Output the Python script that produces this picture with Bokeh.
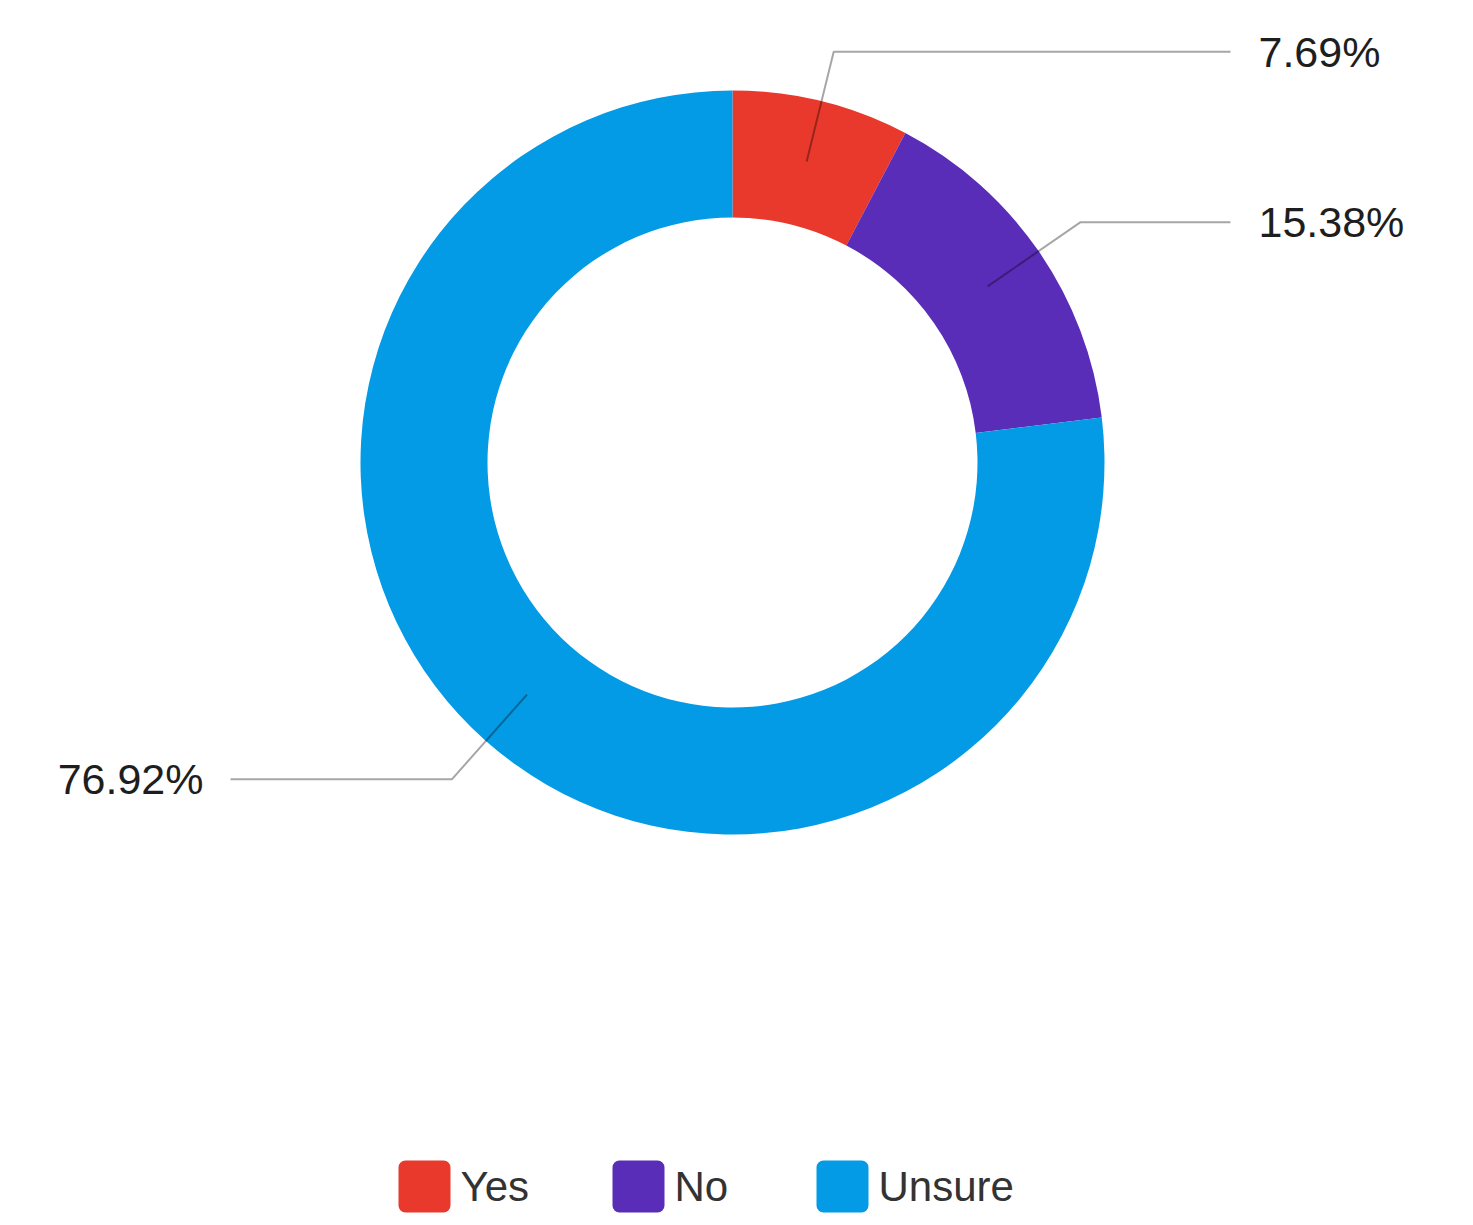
import math
from bokeh.plotting import figure
from bokeh.models import Range1d
from bokeh.core.properties import value
from bokeh.embed import file_html
from bokeh.resources import INLINE

# ---- data ----
categories = ["Yes", "No", "Unsure"]
percentages = [7.69, 15.38, 76.92]
colors = ["#E8392C", "#5A2DB8", "#039BE5"]

# ---- layout constants (pixels) ----
W, H = 1457, 1217
CX, CY = 732, -462
R_OUT, R_IN = 372, 245
R_ANCHOR, R_ELBOW = 310, 423
FONT = "Liberation Sans"

p = figure(width=W, height=H, output_backend="svg", toolbar_location=None,
           x_range=Range1d(0, W), y_range=Range1d(-H, 0),
           min_border=0, outline_line_color=None, background_fill_color="white")
p.axis.visible = False
p.grid.visible = False

total = sum(percentages)
cum = 0.0
starts, ends, mids = [], [], []
for v in percentages:
    a0 = math.pi / 2 - 2 * math.pi * cum / total
    cum += v
    a1 = math.pi / 2 - 2 * math.pi * cum / total
    starts.append(a0)
    ends.append(a1)
    mids.append((a0 + a1) / 2)

p.annular_wedge(x=CX, y=CY, inner_radius=R_IN, outer_radius=R_OUT,
                start_angle=starts, end_angle=ends, direction="clock",
                fill_color=colors, line_color=None)

# leader lines and labels
for v, m in zip(percentages, mids):
    ax, ay = CX + R_ANCHOR * math.cos(m), CY + R_ANCHOR * math.sin(m)
    ex, ey = CX + R_ELBOW * math.cos(m), CY + R_ELBOW * math.sin(m)
    right = math.cos(m) >= 0
    hx = 1230 if right else 230
    p.line([ax, ex, hx], [ay, ey, ey], line_color="black", line_alpha=0.35, line_width=2)
    p.text(x=[hx + 28 if right else hx - 27], y=[ey], text=[f"{v:.2f}%"],
           text_align="left" if right else "right", text_baseline="middle",
           text_font=value(FONT), text_font_size="43px", text_color="#1e1e1e")

# custom legend
legend_y = -1186
sq_x = [424, 638, 842]
for c, name, x in zip(colors, categories, sq_x):
    p.scatter(x=[x], y=[legend_y], marker="square", size=38, fill_color=c,
              line_color=c, line_width=14, line_join="round")
    p.text(x=[x + 36], y=[legend_y], text=[name], text_align="left",
           text_baseline="middle", text_font=value(FONT), text_font_size="42px",
           text_color="#333333")

open("out.html", "w").write(file_html(p, INLINE))
